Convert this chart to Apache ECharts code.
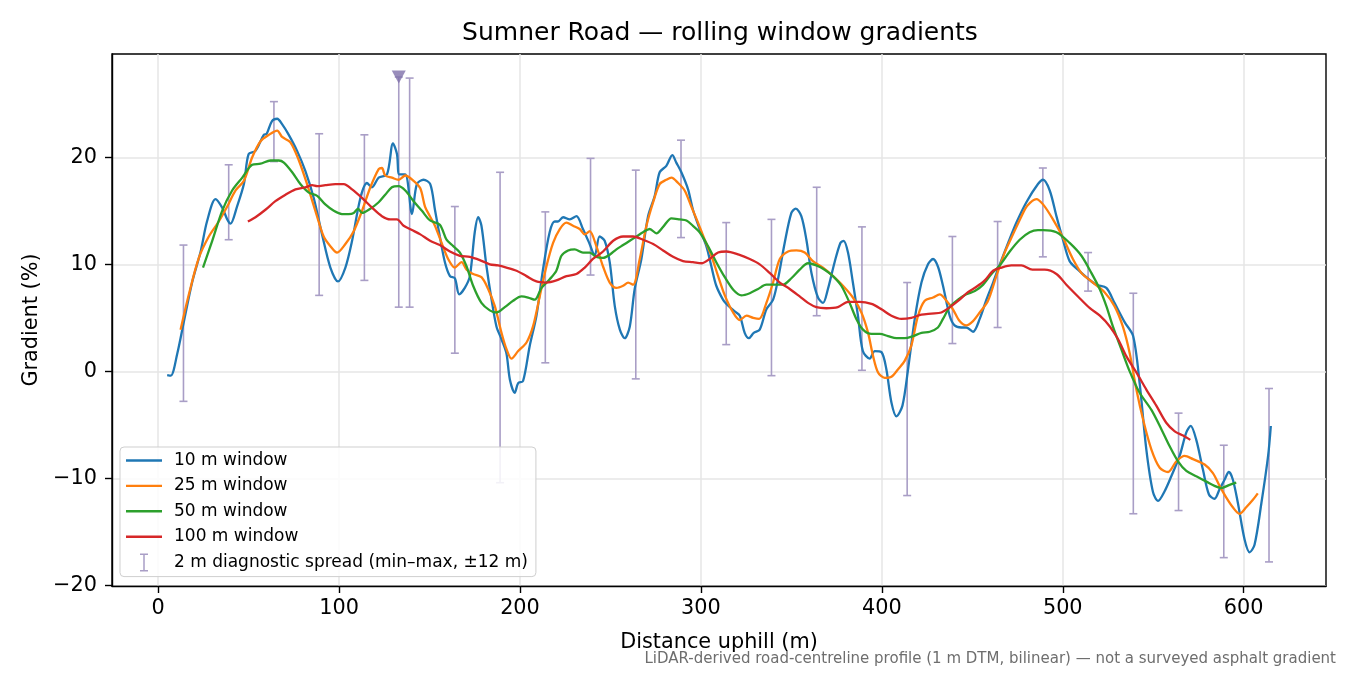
<!DOCTYPE html>
<html>
<head>
<meta charset="utf-8">
<script src="https://cdn.jsdelivr.net/npm/echarts@6/dist/echarts.min.js"></script>
<style>
html,body{margin:0;padding:0;background:#fff;}
#chart{width:1350px;height:675px;}
</style>
</head>
<body>
<div id="chart"></div>
<script>
// ---------- data ----------
const dist10 = [5,7,10.5,14.3,18.9,23.5,27,31.7,35.4,38.2,40,43.6,47.4,50,53.8,58.4,60,63,65.8,68.5,72.2,76.8,81.4,86,90.6,95.2,99.4,103.5,107.2,111.8,115.4,118.2,121.9,126.5,129.8,132,133.3,136.6,140.3,143,146.7,150.4,153,155.7,158.5,161.3,164,166.4,169.5,172.3,175,176.9,178.7,181.5,184.3,187,189.8,192.5,194.4,197.1,199,201.7,205.4,209.1,212.7,216.4,219.2,221,223.8,227.5,231.2,234.8,238.5,241.3,244,246.8,249.6,252.4,255.2,257.9,260.7,263.4,267.1,270.8,274.5,277.2,280.9,284.2,286.4,289.2,292.9,295.6,299.3,303,305.8,308.5,312.2,314.1,318.7,321.5,324.2,326.5,329.2,332.5,336.2,339.9,342.6,346.3,350,352.4,355.5,358.3,361.1,364.7,367.5,370.2,373.9,377.1,378.9,381.3,384,386.8,389.5,393.3,396.1,399.8,402.5,405.3,408.1,411.4,414.5,418.2,421.9,425.5,428.3,431,433.8,437.5,440.2,443.9,446.7,450.4,454.1,457.8,461.5,465.2,469.8,474.4,479.9,486.3,489.1,492.8,496.5,500.1,503.8,508.4,513,518.5,524.1,528.6,534.2,538.9,542.5,546.2,549.9,552.7,556.3,560,564.6,568.3,570.7,573.8,577.5,580.8,583.9,586.7,589.5,591.8,594,596.8,600.5,603.3,606,609.8,613.5,615];
const grad10 = [-0.35,-0.4,1.6,4.7,8.4,11.2,14.0,16.1,15.3,14.2,13.8,15.4,17.5,20.3,20.6,22.1,22.2,23.4,23.6,23.1,22.1,20.6,18.7,16.2,12.8,9.7,8.4,9.7,12.2,16.2,17.6,17.2,18.1,18.4,21.3,20.3,18.4,18.4,14.7,17.5,17.9,17.5,15.1,12.6,10.2,8.9,8.7,7.2,7.8,8.9,13.0,14.4,13.6,9.8,6.7,4.2,3.0,1.7,-0.75,-2.0,-1.1,-0.9,2.4,5.2,9.5,13.0,14.0,14.0,14.4,14.2,14.5,13.3,11.9,10.8,12.6,12.2,10.2,6.1,3.9,3.1,4.2,7.7,10.5,14.5,16.4,18.6,19.2,20.2,19.5,18.6,17.0,15.1,13.3,11.7,9.8,8.0,6.7,6.3,5.6,5.2,3.6,3.1,3.6,3.9,5.8,6.7,8.6,12.0,14.8,15.2,14.5,12.3,9.2,6.9,6.4,7.7,10.2,12.0,12.2,11.1,8.3,5.2,1.9,1.2,1.9,1.8,0.2,-2.9,-4.2,-3.2,0.2,4.9,8.3,10.0,10.5,9.8,8.0,5.2,4.3,4.1,4.1,3.7,4.9,6.7,8.3,10.0,12.0,13.9,15.8,17.5,17.9,16.9,14.5,12.3,10.3,9.5,8.8,8.1,7.8,6.4,4.6,3.3,-1.1,-7.3,-11.3,-12.1,-11.2,-9.8,-7.9,-5.7,-5.1,-6.4,-9.2,-11.5,-11.9,-11.0,-10.1,-9.4,-10.1,-12.3,-15.7,-16.9,-16.2,-12.3,-7.9,-5.1];

const dist25 = [12.4,17,22.5,28,33.5,38.2,42.8,47.4,52,56.6,61.2,65.8,68.5,73.1,77.8,82.3,86.9,91.5,95.2,98.9,103.5,108.1,112.7,117.3,121.9,123.7,125.5,129.2,132.9,136.6,141.2,144.9,147.5,150.2,153,156.7,160.3,164,167.7,170.5,174.1,178.7,182.4,186.1,189.8,192.5,195.3,199,203.6,207.2,210.9,214.6,218.3,222,225.7,229.3,233,235.8,238.5,242.2,245.9,249.6,253.3,257,259.8,262.5,266.2,269.9,273.6,277.2,280.9,283.7,287.4,291,294.7,298.4,302.1,305.8,309.5,313.2,317.8,321.5,325.2,328.9,332.2,336.2,339.9,343.6,348.2,352.8,357.4,361.9,367.5,373,378.5,384,388.7,392.4,395.2,397.9,401.6,405.3,409,412.7,416.3,420,423.7,428.3,432,435.7,439.3,443,446.7,450.4,454.1,458.7,463.3,467.9,472.5,477.2,480.5,485.4,489.1,494.6,500.1,505.6,510.3,516.7,523.1,528.6,533.2,537,540.7,544.4,549,553.6,558.2,562.8,567.4,572,578.4,583,586.7,590.4,594,597.7,601.4,605.1,607.8];
const grad25 = [3.9,7.2,10.6,12.6,14.0,15.4,16.9,17.8,20.0,21.5,22.1,22.5,21.9,21.4,19.7,17.5,15.0,12.6,11.7,11.1,11.9,13.1,15.0,17.2,18.9,19.0,18.3,18.1,17.9,18.3,17.8,17.1,15.4,14.5,13.6,12.0,10.5,9.7,10.2,9.5,9.1,8.8,7.7,6.1,3.6,2.1,1.2,1.9,2.7,4.2,7.0,9.8,12.0,13.3,13.9,13.6,13.3,12.8,13.1,11.7,9.8,8.3,7.8,8.0,8.3,8.1,10.5,13.6,15.8,17.5,17.9,18.1,17.6,16.9,15.4,13.9,12.3,10.8,8.9,7.1,5.5,4.8,5.2,5.0,4.9,6.4,8.3,10.5,11.2,11.3,11.1,10.3,9.7,8.9,8.0,6.9,5.5,3.6,1.4,-0.1,-0.6,-0.5,0.2,1.0,2.4,5.2,6.6,6.9,7.2,6.6,5.8,4.7,4.3,4.7,5.5,6.6,8.9,11.1,12.8,14.5,15.5,16.1,15.6,14.2,12.5,10.5,9.2,8.3,7.4,6.1,4.2,1.7,-1.7,-4.5,-7.3,-9.0,-9.4,-8.4,-7.9,-8.2,-8.7,-9.5,-10.7,-11.8,-12.7,-13.3,-12.7,-12.0,-11.4];

const dist50 = [24.8,29.9,35.4,40.9,46.5,52,56.6,62.1,66.7,69.5,74.1,78.6,83.3,87.9,92.4,97.1,101.6,105.3,108.1,110.5,112.7,117.3,121.9,125.5,129.2,132.9,136.6,141.2,145.8,150.3,155.7,159.4,163.1,166.8,170.5,174.1,178.7,183.3,187,191.6,196.2,200.8,204.5,208.2,211.9,216.4,220.1,222.9,226.6,230.2,234.8,238.5,242.2,245.9,249.6,253.3,257,260.7,264.4,268,271.7,275.4,279.1,283.7,288.3,292,295.6,299.3,303.9,308.5,313.2,318,322.4,327,331.6,336.2,340.8,345.4,350,354.6,359.2,363.8,368.4,373,377.6,382.2,385.9,389.6,394.3,398.9,403.4,408.1,412.7,417.3,421.9,426.5,431,433.8,437.5,442.1,446.7,451.4,456,460.6,465.2,470.7,476.2,481.7,486.3,489.1,496.5,503.8,510.3,515.8,520.4,524.1,527.7,532.3,537,542.5,549,554.5,559.1,563.7,568.3,573.8,579.4,583.9,587.6,592.2,595.9];
const grad50 = [9.7,12.2,15.0,16.9,18.1,19.3,19.4,19.7,19.7,19.5,18.6,17.5,16.7,16.4,15.6,15.0,14.7,14.7,14.8,15.2,14.8,15.2,15.8,16.5,17.2,17.3,16.9,15.9,15.0,14.1,13.7,12.3,11.7,11.1,9.8,8.0,6.4,5.7,5.5,6.0,6.6,7.0,6.9,6.7,7.8,8.6,9.4,10.8,11.3,11.4,11.1,11.1,10.7,10.6,10.9,11.4,11.8,12.2,12.6,13.0,13.3,12.9,13.5,14.3,14.2,14.1,13.6,13.0,11.7,10.2,8.8,7.6,7.1,7.3,7.7,8.1,8.1,8.1,8.7,9.5,10.1,9.9,9.5,8.9,8.0,6.4,4.9,3.9,3.5,3.5,3.3,3.1,3.1,3.3,3.6,3.7,4.1,4.9,6.0,6.7,7.2,7.5,8.1,9.1,9.9,11.2,12.3,13.0,13.2,13.2,13.0,12.0,10.8,9.2,7.7,6.1,4.2,2.1,0.0,-2.0,-3.6,-5.4,-7.0,-8.4,-9.3,-9.8,-10.3,-10.7,-10.9,-10.6,-10.4];

const dist100 = [49.6,53.8,59.3,64.8,70.4,75.9,81.4,85.1,87.9,92.4,98,102.6,107.2,112.7,118.2,123.7,128.3,132,135.7,140.3,144.9,150.3,155.7,161.3,166.8,172.3,177.8,183.3,187.9,192.5,198.1,203.6,209.1,214.6,220.1,225.7,231.2,235.8,240.3,245.9,251.5,257,262.5,268,273.6,279.1,284.6,290.1,295.6,300.3,304.8,309.5,314.1,321,327,332.5,338,343.6,349.1,354.6,359.2,363.8,369.3,375.7,381.3,387.7,394.3,399.8,405.3,410.8,416.3,421.9,427.4,432.9,438.4,443,447.6,452.3,456.9,461.5,466.1,471.6,477.1,483.2,490,496.5,502,508.4,515,520.5,526,530.6,535.2,540.7,546.2,551.7,557.2,561.9,566.5,570.5];
const grad100 = [14.0,14.4,15.1,15.9,16.5,17.0,17.2,17.4,17.3,17.4,17.5,17.5,17.0,16.2,15.3,14.5,14.2,14.2,13.6,13.2,12.8,12.2,11.8,11.2,10.8,10.7,10.4,10.0,9.9,9.7,9.4,8.9,8.4,8.3,8.5,8.9,9.1,9.7,10.5,11.2,12.2,12.6,12.6,12.3,11.9,11.3,10.7,10.3,10.2,10.1,10.5,11.1,11.2,10.9,10.5,10.0,9.2,8.3,7.7,7.0,6.4,6.0,5.9,6.0,6.5,6.5,6.3,5.8,5.2,4.9,5.0,5.3,5.4,5.5,6.1,6.7,7.4,7.9,8.5,9.4,9.7,9.9,9.9,9.5,9.5,9.1,8.1,7.0,5.9,5.2,4.2,3.0,1.4,-0.1,-1.7,-3.2,-4.8,-5.6,-6.0,-6.4];

// 2 m diagnostic spread (min / max within ±12 m)
const spreadDist = [14,39,64,89,114,133,139,164,189,214,239,264,289,314,339,364,389,414,439,464,489,514,539,564,589,614];
const spreadLow  = [-2.8,12.3,19.6,7.1,8.5,6.0,6.0,1.7,-10.4,0.8,9.0,-0.7,12.5,2.5,-0.4,5.2,0.1,-11.6,2.6,4.1,10.7,7.5,-13.3,-13.0,-17.4,-17.8];
const spreadHigh = [11.8,19.3,25.2,22.2,22.1,27.5,27.4,15.4,18.6,14.9,19.9,18.8,21.6,13.9,14.2,17.2,13.5,8.3,12.6,14.0,19.0,11.1,7.3,-3.9,-6.9,-1.6];

// steepest point marker
const peakDist = [133];
const peakGrad = [27.5];

const xTicks = [0,100,200,300,400,500,600];
const yTicks = [-20,-10,0,10,20];

const seriesNames = ['10 m window','25 m window','50 m window','100 m window'];
const spreadName = '2 m diagnostic spread (min\u2013max, \u00b112 m)';

// ---------- build ----------
const pairs = (xs, ys) => xs.map((x, i) => [x, ys[i]]);
const colors = ['#1f77b4','#ff7f0e','#2ca02c','#d62728'];
const barColor = '#a99ec6';
const FONT = 'DejaVu Sans';

const lineSeries = [[dist10,grad10],[dist25,grad25],[dist50,grad50],[dist100,grad100]].map((d, i) => ({
  name: seriesNames[i],
  type: 'line',
  data: pairs(d[0], d[1]),
  showSymbol: false,
  symbol: 'none',
  smooth: 0.3,
  color: colors[i],
  lineStyle: { color: colors[i], width: 2.3 },
  z: 3 + i,
  animation: false
}));

const spreadData = spreadDist.map((x, i) => [x, spreadLow[i], spreadHigh[i]]);

const spreadSeries = {
  name: spreadName,
  type: 'custom',
  data: spreadData,
  encode: { x: 0, y: [1, 2] },
  itemStyle: { color: barColor },
  z: 2,
  renderItem: function (params, api) {
    const x = api.value(0), lo = api.value(1), hi = api.value(2);
    const p1 = api.coord([x, lo]);
    const p2 = api.coord([x, hi]);
    const st = { stroke: barColor, lineWidth: 1.6, fill: null };
    const cw = 4;
    return {
      type: 'group',
      children: [
        { type: 'line', shape: { x1: p1[0], y1: p1[1], x2: p2[0], y2: p2[1] }, style: st },
        { type: 'line', shape: { x1: p1[0] - cw, y1: p1[1], x2: p1[0] + cw, y2: p1[1] }, style: st },
        { type: 'line', shape: { x1: p2[0] - cw, y1: p2[1], x2: p2[0] + cw, y2: p2[1] }, style: st }
      ]
    };
  },
  animation: false
};

const peakSeries = {
  name: 'peak',
  type: 'scatter',
  data: pairs(peakDist, peakGrad),
  symbol: 'triangle',
  symbolRotate: 180,
  symbolSize: [14, 13],
  itemStyle: { color: '#8070aa' },
  z: 8,
  animation: false
};

const lineIcon = 'path://M0,0H36V2.4H0Z';
const barIcon = 'path://M0,0H8V1.5H4.75V16.5H8V18H0V16.5H3.25V1.5H0Z';

const axisLineStyle = { show: true, onZero: false, lineStyle: { color: '#000', width: 1.4 } };

const option = {
  backgroundColor: '#ffffff',
  animation: false,
  title: {
    text: 'Sumner Road \u2014 rolling window gradients',
    left: 720, top: 21, textAlign: 'center', padding: 0,
    textStyle: { fontFamily: FONT, fontSize: 25, fontWeight: 'normal', color: '#000' }
  },
  grid: {
    left: 112, right: 24, top: 54, bottom: 89,
    show: true, borderColor: '#000', borderWidth: 1.4, backgroundColor: 'transparent'
  },
  legend: {
    orient: 'vertical',
    left: 120, top: 447,
    padding: [5, 8, 5, 6],
    itemWidth: 36, itemHeight: 18, itemGap: 8.4,
    symbolKeepAspect: true,
    backgroundColor: 'rgba(255,255,255,0.85)',
    borderColor: '#cfcfcf', borderWidth: 1, borderRadius: 4,
    textStyle: { fontFamily: FONT, fontSize: 17, color: '#000', padding: [0, 0, 0, 7] },
    data: seriesNames.map(n => ({ name: n, icon: lineIcon })).concat([{ name: spreadName, icon: barIcon }])
  },
  xAxis: {
    type: 'value',
    min: -25.5, max: 645.5,
    name: 'Distance uphill (m)',
    nameLocation: 'middle', nameGap: 46,
    nameTextStyle: { fontFamily: FONT, fontSize: 20.8, color: '#000' },
    axisLine: axisLineStyle,
    axisTick: { show: true, inside: false, length: 7, lineStyle: { color: '#000', width: 1.4 }, customValues: xTicks },
    axisLabel: { fontFamily: FONT, fontSize: 20.8, color: '#000', margin: 12, customValues: xTicks },
    splitLine: { show: true, lineStyle: { color: '#e6e6e6', width: 1.5 } }
  },
  yAxis: {
    type: 'value',
    min: -20.05, max: 29.65,
    name: 'Gradient (%)',
    nameLocation: 'middle', nameGap: 65,
    nameTextStyle: { fontFamily: FONT, fontSize: 20.8, color: '#000' },
    axisLine: axisLineStyle,
    axisTick: { show: true, inside: false, length: 7, lineStyle: { color: '#000', width: 1.4 }, customValues: yTicks },
    axisLabel: {
      fontFamily: FONT, fontSize: 20.8, color: '#000', margin: 15, customValues: yTicks,
      formatter: v => (v < 0 ? '\u2212' + Math.abs(v) : String(v))
    },
    splitLine: { show: true, lineStyle: { color: '#e6e6e6', width: 1.5 } }
  },
  graphic: [{
    type: 'text',
    right: 14, top: 652,
    style: {
      text: 'LiDAR-derived road-centreline profile (1 m DTM, bilinear) \u2014 not a surveyed asphalt gradient',
      fontFamily: FONT, fontSize: 15, fill: '#6e6e6e'
    }
  }],
  series: [spreadSeries].concat(lineSeries).concat([peakSeries])
};

const chart = echarts.init(document.getElementById('chart'), null, { renderer: 'canvas' });
chart.setOption(option);
</script>
</body>
</html>
